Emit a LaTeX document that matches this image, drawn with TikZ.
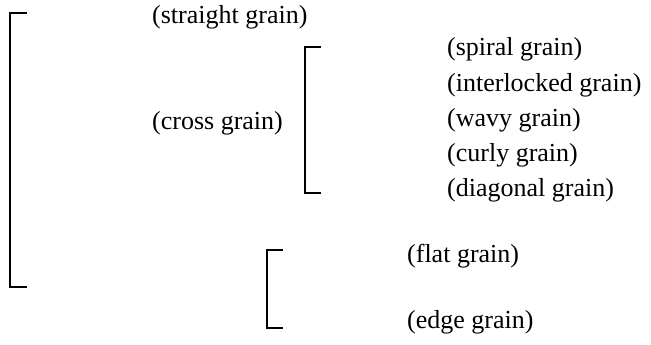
\documentclass[tikz,border=0pt]{standalone}
\usepackage{fontspec}
\setmainfont{Liberation Serif}
\usetikzlibrary{positioning}
\tikzset{grain/.style={anchor=west, inner sep=0pt, font=\fontsize{26}{30}\selectfont},
         bracket/.style={line width=1.6pt}}

\begin{document}
\begin{tikzpicture}[x=1pt, y=-1pt]
    \useasboundingbox (0,0) rectangle (651,345);
    % main grain labels
    \node[grain] (straight) at (152,17) {(straight grain)};
    \node[grain] (cross) at (152,123) {(cross grain)};
    % cross grain kinds
    \node[grain] (spiral) at (447,49) {(spiral grain)};
    \node[grain] (interlocked) at (447,85) {(interlocked grain)};
    \node[grain] (wavy) at (447,120) {(wavy grain)};
    \node[grain] (curly) at (447,155) {(curly grain)};
    \node[grain] (diagonal) at (447,190) {(diagonal grain)};
    % sawn faces
    \node[grain] (flat) at (407,256) {(flat grain)};
    \node[grain] (edge) at (407,322) {(edge grain)};
    % outer bracket
    \coordinate (b1top) at (10,13);
    \coordinate (b1bot) at (10,287);
    \draw[bracket] (b1top) ++(17,0) -- (b1top) -- (b1bot) -- ++(17,0);
    % bracket for cross grain kinds
    \coordinate (b2top) at (305,47);
    \coordinate (b2bot) at (305,193);
    \draw[bracket] (b2top) ++(16,0) -- (b2top) -- (b2bot) -- ++(16,0);
    % bracket for flat and edge grain
    \coordinate (b3top) at (267,250);
    \coordinate (b3bot) at (267,328);
    \draw[bracket] (b3top) ++(16,0) -- (b3top) -- (b3bot) -- ++(16,0);
\end{tikzpicture}
\end{document}
